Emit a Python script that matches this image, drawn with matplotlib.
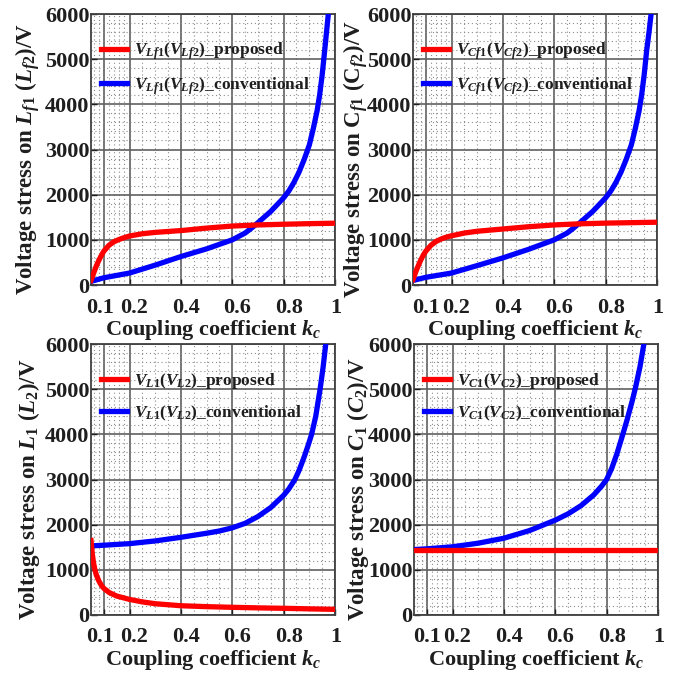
import matplotlib
matplotlib.use("Agg")
import matplotlib.pyplot as plt
from matplotlib.ticker import FixedLocator
from matplotlib.transforms import ScaledTranslation

plt.rcParams['font.family'] = ['Liberation Serif', 'DejaVu Serif']
plt.rcParams['font.weight'] = 'bold'
plt.rcParams['mathtext.fontset'] = 'custom'
plt.rcParams['mathtext.rm'] = 'Liberation Serif:bold'
plt.rcParams['mathtext.it'] = 'Liberation Serif:italic:bold'
plt.rcParams['mathtext.bf'] = 'Liberation Serif:bold'

# values
# top-left: filter inductor Lf1 (Lf2)
k_lf_prop = [0.05, 0.055, 0.06, 0.07, 0.08, 0.09, 0.1, 0.12, 0.14, 0.16, 0.18, 0.2,
             0.25, 0.3, 0.35, 0.4, 0.5, 0.6, 0.7, 0.8, 0.9, 1.0]
v_lf_prop = [100, 180, 260, 410, 540, 650, 750, 880, 960, 1010, 1050, 1085,
             1135, 1165, 1185, 1205, 1260, 1305, 1330, 1345, 1358, 1368]
k_lf_conv = [0.05, 0.1, 0.2, 0.3, 0.4, 0.5, 0.6, 0.65, 0.675, 0.7, 0.75, 0.8, 0.82,
             0.84, 0.86, 0.88, 0.9, 0.915, 0.93, 0.94, 0.95, 0.96, 0.967, 0.974]
v_lf_conv = [80, 160, 265, 440, 630, 800, 1000, 1150, 1260, 1380, 1630, 1930, 2080,
             2270, 2500, 2780, 3100, 3450, 3850, 4200, 4650, 5200, 5600, 6000]

# top-right: filter capacitor Cf1 (Cf2)
k_cf_prop = [0.05, 0.055, 0.06, 0.07, 0.08, 0.09, 0.1, 0.12, 0.14, 0.16, 0.18, 0.2,
             0.25, 0.3, 0.35, 0.4, 0.5, 0.6, 0.7, 0.8, 0.9, 1.0]
v_cf_prop = [120, 200, 280, 420, 550, 660, 750, 880, 965, 1020, 1060, 1090,
             1150, 1190, 1215, 1240, 1290, 1330, 1355, 1370, 1380, 1390]
k_cf_conv = [0.05, 0.1, 0.2, 0.3, 0.4, 0.5, 0.6, 0.65, 0.675, 0.7, 0.75, 0.8, 0.82,
             0.84, 0.86, 0.88, 0.9, 0.915, 0.93, 0.94, 0.95, 0.96, 0.969, 0.977]
v_cf_conv = [100, 170, 265, 430, 600, 790, 1000, 1150, 1260, 1380, 1630, 1930, 2080,
             2270, 2500, 2780, 3100, 3450, 3850, 4200, 4650, 5200, 5600, 6000]

# bottom-left: coupled inductor L1 (L2)
k_l_prop = [0.05, 0.055, 0.06, 0.065, 0.07, 0.08, 0.09, 0.1, 0.12, 0.15, 0.2, 0.25,
            0.3, 0.4, 0.5, 0.6, 0.7, 0.8, 0.9, 1.0]
v_l_prop = [1650, 1350, 1150, 1010, 900, 760, 660, 590, 500, 420, 345, 290,
            250, 205, 185, 170, 158, 148, 136, 125]
k_l_conv = [0.05, 0.1, 0.2, 0.3, 0.4, 0.5, 0.55, 0.6, 0.65, 0.7, 0.75, 0.8, 0.82,
            0.844, 0.86, 0.88, 0.895, 0.909, 0.925, 0.942, 0.954, 0.964]
v_l_conv = [1530, 1545, 1580, 1640, 1720, 1810, 1860, 1930, 2030, 2180, 2380, 2650, 2790,
            3000, 3200, 3500, 3750, 4000, 4400, 5000, 5500, 6000]

# bottom-right: resonant capacitor C1 (C2)
k_c_prop = [0.05, 0.2, 0.4, 0.6, 0.8, 1.0]
v_c_prop = [1450, 1450, 1450, 1450, 1450, 1450]
k_c_conv = [0.05, 0.1, 0.2, 0.3, 0.4, 0.5, 0.6, 0.65, 0.7, 0.75, 0.78, 0.8, 0.82,
            0.84, 0.863, 0.88, 0.9, 0.913, 0.93, 0.945]
v_c_conv = [1450, 1465, 1510, 1590, 1700, 1870, 2100, 2240, 2420, 2660, 2850, 3000, 3250,
            3570, 4000, 4330, 4750, 5050, 5500, 6000]

x_ticks = [0.1, 0.2, 0.4, 0.6, 0.8, 1.0]
x_ticklabels = ['0.1', '0.2', '0.4', '0.6', '0.8', '1']
x_minor = [0.06, 0.08, 0.12, 0.14, 0.16, 0.18, 0.25, 0.3, 0.35, 0.45, 0.5, 0.55,
           0.65, 0.7, 0.75, 0.85, 0.9, 0.95]
y_ticks = [0, 1000, 2000, 3000, 4000, 5000, 6000]
y_minor = [v for v in range(0, 6001, 200) if v % 1000 != 0]

panels = [
    ([91, 14], -4, 2, k_lf_prop, v_lf_prop, k_lf_conv, v_lf_conv,
     r'$V_{Lf1}(V_{Lf2})$_', r'Voltage stress on $L_{f1}$ ($L_{f2}$)/V'),
    ([413, 14], 0, -2, k_cf_prop, v_cf_prop, k_cf_conv, v_cf_conv,
     r'$V_{Cf1}(V_{Cf2})$_', r'Voltage stress on C$_{f1}$ (C$_{f2}$)/V'),
    ([91, 344], -4, 2, k_l_prop, v_l_prop, k_l_conv, v_l_conv,
     r'$V_{L1}(V_{L2})$_', r'Voltage stress on $L_1$ ($L_2$)/V'),
    ([414, 344], 0, -2, k_c_prop, v_c_prop, k_c_conv, v_c_conv,
     r'$V_{C1}(V_{C2})$_', r'Voltage stress on $C_1$ ($C_2$)/V'),
]

W, H = 689, 673
fig = plt.figure(figsize=(W / 100, H / 100), dpi=100)
fig.patch.set_facecolor('white')

txt = '#1e1e1e'
for (left, top), first_dx, ypad, kp, vp, kc, vc, name, ylab in panels:
    ax = fig.add_axes([left / W, (H - top - 271) / H, 244 / W, 271 / H])
    ax.plot(kp, vp, color='#ff0000', lw=3.8, label=name + 'proposed', zorder=4)
    ax.plot(kc, vc, color='#0000ff', lw=3.8, label=name + 'conventional', zorder=3)
    ax.set_xlim(0.05, 1.0)
    ax.set_ylim(0, 6000)
    ax.set_xticks(x_ticks)
    ax.set_xticklabels(x_ticklabels)
    ax.set_yticks(y_ticks)
    ax.xaxis.set_minor_locator(FixedLocator(x_minor))
    ax.yaxis.set_minor_locator(FixedLocator(y_minor))
    ax.grid(True, which='major', color='#606060', lw=1.2, ls='-', zorder=1)
    ax.grid(True, which='minor', color='#8c8c8c', lw=0.8, ls=(0, (1, 2.5)), zorder=1)
    ax.tick_params(which='major', direction='in', length=4, width=1,
                   labelsize=16, colors=txt)
    ax.tick_params(axis='x', which='major', pad=9)
    ax.tick_params(axis='y', which='major', pad=1)
    ax.tick_params(which='minor', length=0)
    for lab in ax.get_xticklabels() + ax.get_yticklabels():
        lab.set_fontweight('bold')
    # the tick labels in the original sit a little off their ticks
    for i, lab in enumerate(ax.get_xticklabels()):
        dx = first_dx if i == 0 else (1 if i == 5 else 5)
        lab.set_transform(lab.get_transform() + ScaledTranslation(dx / 100, 0, fig.dpi_scale_trans))
    for sp in ax.spines.values():
        sp.set_color('#404040')
        sp.set_linewidth(1.3)
    ax.set_xlabel(r'Coupling coefficient $k_c$', fontsize=16, fontweight='bold',
                  color=txt, labelpad=0)
    ax.set_ylabel(ylab, fontsize=16.5, fontweight='bold', color=txt, labelpad=ypad)
    ax.yaxis.label.set_y(0.465)
    leg = ax.legend(loc='upper left', bbox_to_anchor=(0.0, 0.94), frameon=False,
                    prop={'size': 12.5, 'weight': 'bold'}, handlelength=1.5,
                    handletextpad=0.4, labelspacing=0.75, borderaxespad=0.2)
    for t in leg.get_texts():
        t.set_color(txt)

fig.savefig('out.png', dpi=100, facecolor='white')
